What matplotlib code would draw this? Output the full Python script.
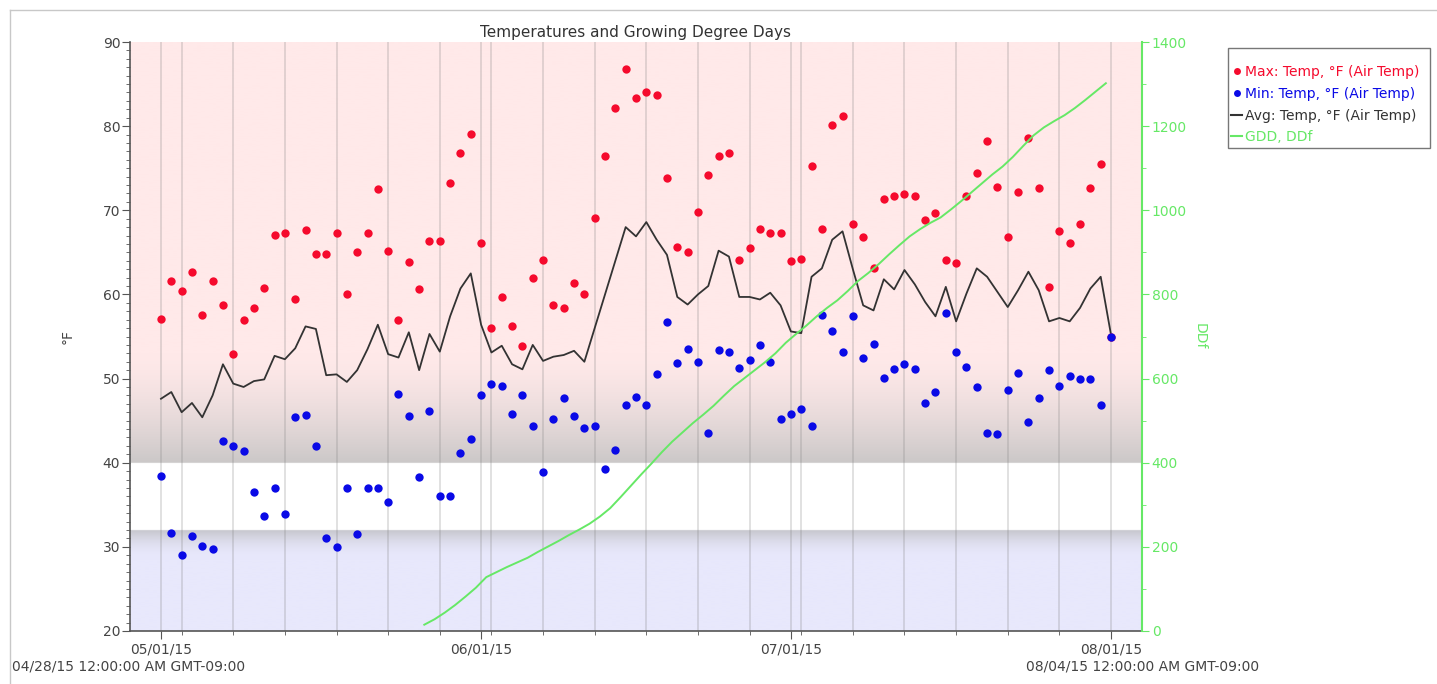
import numpy as np
import matplotlib
matplotlib.use("Agg")
import matplotlib.pyplot as plt
import matplotlib.dates as mdates
from matplotlib.lines import Line2D
from matplotlib.patches import Rectangle
from matplotlib.ticker import FixedLocator, MultipleLocator
from datetime import datetime, timedelta

# daily readings from 05/01/15 to 08/01/15
start = datetime(2015, 5, 1)
max_temp = [57.1, 61.6, 60.4, 62.7, 57.5, 61.6, 58.8, 52.9, 57.0, 58.4,
            60.8, 67.1, 67.3, 59.5, 67.7, 64.8, 64.8, 67.3, 60.1, 65.0,
            67.3, 72.5, 65.2, 57.0, 63.9, 60.6, 66.4, 66.3, 73.2, 76.8,
            79.1, 66.1, 56.0, 59.7, 56.2, 53.9, 62.0, 64.1, 58.7, 58.4,
            61.4, 60.1, 69.1, 76.4, 82.2, 86.8, 83.3, 84.1, 83.7, 73.8,
            65.6, 65.0, 69.8, 74.2, 76.5, 76.8, 64.1, 65.5, 67.8, 67.3,
            67.3, 64.0, 64.2, 75.3, 67.8, 80.1, 81.2, 68.4, 66.8, 63.1,
            71.4, 71.7, 71.9, 71.7, 68.8, 69.7, 64.1, 63.7, 71.7, 74.4,
            78.2, 72.8, 66.8, 72.2, 78.6, 72.7, 60.9, 67.5, 66.1, 68.4,
            72.7, 75.5, 55.0]
min_temp = [38.4, 31.7, 29.0, 31.3, 30.1, 29.8, 42.6, 42.0, 41.4, 36.5,
            33.7, 37.0, 33.9, 45.4, 45.7, 42.0, 31.1, 30.0, 37.0, 31.5,
            37.0, 37.0, 35.3, 48.2, 45.6, 38.3, 46.1, 36.0, 36.0, 41.1,
            42.8, 48.0, 49.4, 49.1, 45.8, 48.1, 44.4, 38.9, 45.2, 47.7,
            45.6, 44.1, 44.4, 39.3, 41.5, 46.8, 47.8, 46.9, 50.5, 56.7,
            51.8, 53.5, 52.0, 43.5, 53.4, 53.2, 51.2, 52.2, 54.0, 52.0,
            45.2, 45.8, 46.4, 44.4, 57.6, 55.7, 53.2, 57.4, 52.5, 54.1,
            50.1, 51.1, 51.7, 51.1, 47.1, 48.4, 57.8, 53.2, 51.4, 49.0,
            43.5, 43.4, 48.6, 50.7, 44.8, 47.7, 51.0, 49.1, 50.3, 50.0,
            50.0, 46.9, 55.0]
avg_temp = [47.6, 48.4, 46.0, 47.1, 45.4, 48.0, 51.7, 49.4, 49.0, 49.7,
            49.9, 52.7, 52.3, 53.6, 56.2, 55.9, 50.4, 50.5, 49.6, 51.0,
            53.5, 56.4, 52.9, 52.5, 55.5, 51.0, 55.3, 53.2, 57.4, 60.7,
            62.5, 56.4, 53.1, 53.9, 51.7, 51.1, 54.0, 52.1, 52.6, 52.8,
            53.3, 52.0, 56.0, 60.0, 64.0, 68.0, 66.9, 68.6, 66.5, 64.7,
            59.7, 58.8, 60.0, 61.0, 65.2, 64.5, 59.7, 59.7, 59.4, 60.2,
            58.7, 55.6, 55.4, 62.1, 63.1, 66.5, 67.5, 63.0, 58.7, 58.1,
            61.8, 60.6, 62.9, 61.2, 59.1, 57.4, 60.9, 56.8, 60.1, 63.1,
            62.1, 60.3, 58.5, 60.5, 62.7, 60.5, 56.8, 57.2, 56.8, 58.4,
            60.7, 62.1, 55.2]

# growing degree days, from 05/26/15 12:00
gdd_start = datetime(2015, 5, 26, 12)
gdd = [15, 28, 44, 62, 82, 103, 128, 140, 152, 163,
       174, 188, 201, 214, 228, 241, 255, 272, 292, 318,
       345, 372, 398, 425, 450, 472, 494, 514, 535, 559,
       582, 601, 620, 639, 660, 685, 706, 726, 748, 768,
       786, 808, 832, 851, 872, 895, 917, 938, 955, 970,
       983, 1002, 1022, 1043, 1064, 1085, 1104, 1127, 1153, 1178,
       1197, 1212, 1226, 1243, 1262, 1282, 1302]

month_ticks = [datetime(2015, 5, 1), datetime(2015, 6, 1),
               datetime(2015, 7, 1), datetime(2015, 8, 1)]
month_labels = ["05/01/15", "06/01/15", "07/01/15", "08/01/15"]

days = [start + timedelta(days=i) for i in range(len(max_temp))]
gdd_days = [gdd_start + timedelta(days=i) for i in range(len(gdd))]

red = "#f50a2d"
blue = "#0a0ae6"
green = "#66e866"
txt = "#444444"

fig = plt.figure(figsize=(14.37, 6.84), dpi=100)
ax = fig.add_axes([130 / 1437, 1 - 631 / 684, 1012 / 1437, 589 / 684])

x0 = mdates.date2num(datetime(2015, 4, 28))
x1 = mdates.date2num(datetime(2015, 8, 4))

# background bands: pink above 40, white 32-40, lavender below 32
ys = np.linspace(20, 90, 1401)
pink = np.array([255, 233, 233]) / 255
grey = np.array([203, 200, 200]) / 255
lav = np.array([232, 232, 252]) / 255
grey2 = np.array([198, 198, 204]) / 255
col = np.zeros((len(ys), 3))
for i, y in enumerate(ys):
    if y >= 40:
        t = np.clip((53 - y) / 13, 0, 1) ** 1.5
        col[i] = pink * (1 - t) + grey * t
    elif y >= 32:
        col[i] = 1.0
    else:
        t = np.clip((y - 28.5) / 3.5, 0, 1) ** 2
        col[i] = lav * (1 - t) + grey2 * t
ax.imshow(col[:, None, :], extent=[x0, x1, 20, 90], origin="lower",
          aspect="auto", zorder=0, interpolation="bilinear")

# vertical grid every 5 days plus month starts
grid_days = [datetime(2015, 5, 3) + timedelta(days=5 * k) for k in range(19)]
for d in grid_days + month_ticks[:3]:
    ax.axvline(d, color="#808080", alpha=0.28, lw=1.2, zorder=1)

ax.plot(days, avg_temp, color="#333333", lw=1.3, zorder=3)
ax.plot(days, max_temp, "o", color=red, ms=6, mec="none", zorder=4)
ax.plot(days, min_temp, "o", color=blue, ms=6, mec="none", zorder=5)

ax.set_xlim(x0, x1)
ax.set_ylim(20, 90)
ax.xaxis.set_major_locator(FixedLocator(mdates.date2num(month_ticks)))
ax.set_xticklabels(month_labels)
ax.xaxis.set_minor_locator(FixedLocator(mdates.date2num(grid_days)))
ax.yaxis.set_major_locator(MultipleLocator(10))
ax.yaxis.set_minor_locator(MultipleLocator(1))
ax.tick_params(axis="both", which="major", length=6, color="#555555",
               labelsize=10, labelcolor=txt, pad=2)
ax.tick_params(axis="both", which="minor", length=3, color="#555555")
ax.tick_params(axis="y", which="major", pad=1)
for s in ["top", "right"]:
    ax.spines[s].set_visible(False)
for s in ["left", "bottom"]:
    ax.spines[s].set_color("#555555")
    ax.spines[s].set_linewidth(1.2)
ax.set_ylabel("°F", color=txt, fontsize=10, labelpad=20)

ax2 = ax.twinx()
ax2.plot(gdd_days, gdd, color=green, lw=1.4, zorder=6)
ax2.set_ylim(0, 1400)
ax2.yaxis.set_major_locator(MultipleLocator(200))
ax2.yaxis.set_minor_locator(MultipleLocator(100))
ax2.tick_params(axis="y", which="major", length=5, color=green,
                labelsize=10, labelcolor=green, pad=2)
ax2.tick_params(axis="y", which="minor", length=3, color=green)
for s in ["top", "left", "bottom"]:
    ax2.spines[s].set_visible(False)
ax2.spines["right"].set_color(green)
ax2.spines["right"].set_linewidth(1.5)
ax2.set_ylabel("DDf", color=green, fontsize=10, rotation=270, labelpad=14)

fig.text(636 / 1437, 1 - 33 / 684, "Temperatures and Growing Degree Days",
         ha="center", va="center", fontsize=11, color="#333333")
fig.text(129 / 1437, 1 - 667 / 684, "04/28/15 12:00:00 AM GMT-09:00",
         ha="center", va="center", fontsize=10, color=txt)
fig.text(1143 / 1437, 1 - 667 / 684, "08/04/15 12:00:00 AM GMT-09:00",
         ha="center", va="center", fontsize=10, color=txt)

# outer frame of the chart panel
fig.add_artist(Line2D([10 / 1437, 1.0], [1 - 10 / 684] * 2,
                      transform=fig.transFigure, color="#c8c8c8", lw=1))
fig.add_artist(Line2D([10 / 1437] * 2, [0, 1 - 10 / 684],
                      transform=fig.transFigure, color="#c8c8c8", lw=1))

# legend box
fig.add_artist(Rectangle((1228 / 1437, 1 - 148 / 684), 202 / 1437, 100 / 684,
                         transform=fig.transFigure, fill=False,
                         edgecolor="#777777", lw=1))
handles = [Line2D([], [], marker="o", ls="none", color=red, ms=5, mec="none"),
           Line2D([], [], marker="o", ls="none", color=blue, ms=5, mec="none"),
           Line2D([], [], color="#333333", lw=1.5),
           Line2D([], [], color=green, lw=1.5)]
labels = ["Max: Temp, °F (Air Temp)", "Min: Temp, °F (Air Temp)",
          "Avg: Temp, °F (Air Temp)", "GDD, DDf"]
leg = fig.legend(handles, labels, loc="upper left",
                 bbox_to_anchor=(1231 / 1437, 1 - 65 / 684), frameon=False,
                 fontsize=10, handlelength=0.8, handletextpad=0.2,
                 labelspacing=0.56, borderpad=0, borderaxespad=0)
for t, c in zip(leg.get_texts(), [red, blue, "#333333", green]):
    t.set_color(c)

fig.savefig("out.png", dpi=100)
